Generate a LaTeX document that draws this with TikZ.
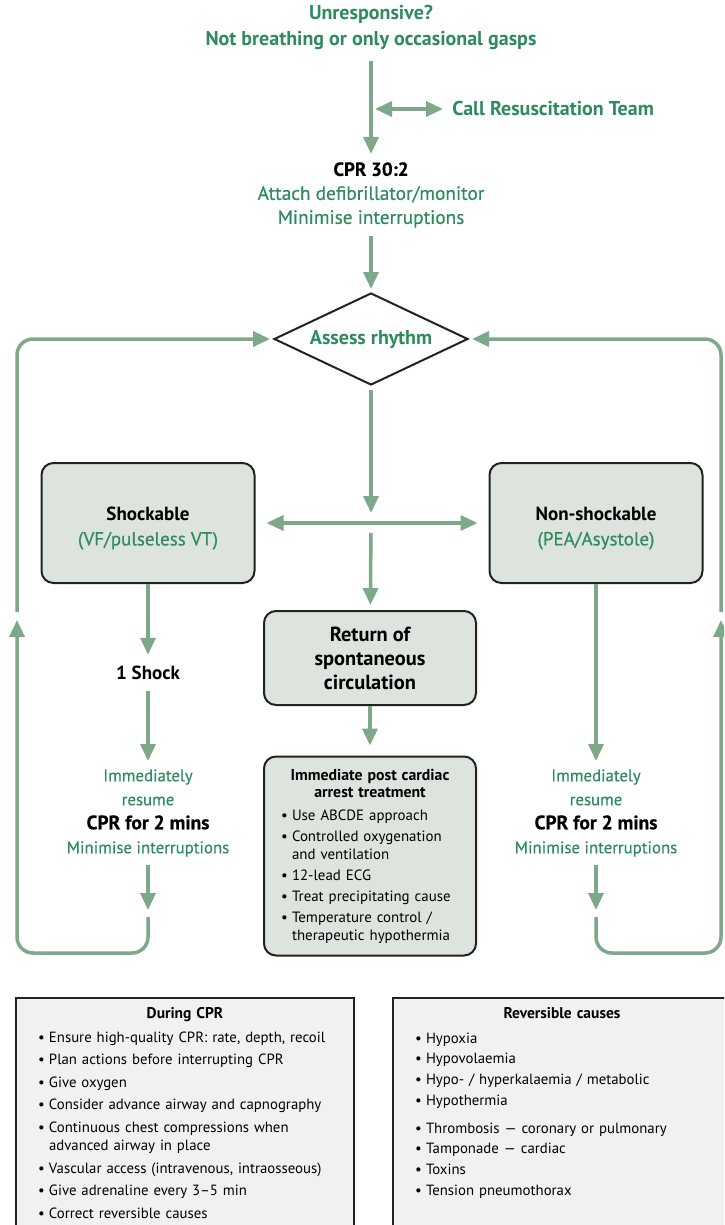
\documentclass[tikz,border=0pt]{standalone}
\usepackage{fontspec}
\setmainfont{PT Sans}
\newfontfamily\medium{PT Sans}[FakeBold=0.4]
\usetikzlibrary{arrows.meta,shapes.geometric}

\definecolor{rcgreen}{RGB}{46,139,94}
\definecolor{rcline}{RGB}{125,168,137}
\definecolor{rcfill}{RGB}{221,227,221}
\definecolor{rcpanel}{RGB}{240,241,240}
\definecolor{rcdark}{RGB}{34,34,34}

\newcommand{\itm}[1]{\makebox[11pt][l]{\textbullet}#1}
\newcommand{\itc}[1]{\hspace*{11pt}#1}

\begin{document}
\begin{tikzpicture}[x=1pt,y=-1pt,>={Triangle[width=15pt,length=17pt]},
    flow/.style={draw=rcline,line width=3.5pt,->},
    loop/.style={flow,rounded corners=16pt},
    hd/.style={font=\bfseries\fontsize{20}{26}\selectfont,text=rcgreen,align=center},
    sub/.style={font=\medium\fontsize{19.3}{24}\selectfont,text=rcgreen,align=center,outer sep=5pt},
    col/.style={font=\medium\fontsize{16.8}{24}\selectfont,text=rcgreen,align=center,outer sep=5pt},
    box/.style={draw=rcdark,line width=2pt,fill=rcfill,rounded corners=12pt,
        minimum width=213pt,minimum height=120pt,align=center,
        font=\fontsize{19}{25}\selectfont},
    panel/.style={draw=rcdark,line width=2pt,fill=rcpanel,anchor=north west,
        align=left,text width=294pt,inner xsep=22pt,inner ysep=9pt,
        font=\fontsize{14.8}{18}\selectfont}]
  \clip (0,0) rectangle (724,1225);

  \node (start) at (371,27) [hd,outer sep=8pt] {Unresponsive?\\Not breathing or only occasional gasps};
  \coordinate (callj) at (375,109);
  \node (call) at (443,109) [hd,anchor=west,outer sep=6pt] {Call Resuscitation Team};
  \node (cpr) at (371,195) [sub] {\textcolor{black}{\bfseries\fontsize{19}{24}\selectfont CPR 30:2}\\Attach defibrillator/monitor\\Minimise interruptions};
  \node (assess) at (371,339) [diamond,draw=rcdark,line width=2pt,aspect=2.1,inner sep=0pt,
      minimum width=194pt,minimum height=92pt,hd] {Assess rhythm};
  \node (shock) at (148,523) [box] {\rule{0pt}{24pt}\textbf{Shockable}\\\textcolor{rcgreen}{\medium (VF/pulseless VT)}};
  \node (nonshock) at (596,523) [box] {\rule{0pt}{24pt}\textbf{Non-shockable}\\\textcolor{rcgreen}{\medium (PEA/Asystole)}};
  \coordinate (split) at (371,524);
  \node (rosc) at (370,658) [box,minimum width=212pt,minimum height=94pt,
      font=\bfseries\fontsize{20.4}{24}\selectfont] {Return of\\spontaneous\\circulation};
  \node (post) at (370,856) [box,minimum width=212pt,minimum height=199pt,align=left,
      text width=178pt,font=\fontsize{14.9}{18}\selectfont] {%
      \makebox[178pt][c]{\bfseries\fontsize{15.8}{17}\selectfont Immediate post cardiac}\\[-1pt]
      \makebox[178pt][c]{\bfseries\fontsize{15.8}{17}\selectfont arrest treatment}\\[5pt]
      \itm{Use ABCDE approach}\\[3pt]
      \itm{Controlled oxygenation}\\
      \itc{and ventilation}\\[3pt]
      \itm{12-lead ECG}\\[3pt]
      \itm{Treat precipitating cause}\\[3pt]
      \itm{Temperature control /}\\
      \itc{therapeutic hypothermia}};

  \node (shockone) at (148,673) [font=\bfseries\fontsize{19}{24}\selectfont,outer sep=8pt] {1 Shock};
  \node (shockcpr) at (148,813) [col] {Immediately\\resume\\\textcolor{black}{\bfseries\fontsize{19.5}{24}\selectfont CPR for 2 mins}\\Minimise interruptions};
  \node (nscpr) at (596,813) [col] {Immediately\\resume\\\textcolor{black}{\bfseries\fontsize{19.5}{24}\selectfont CPR for 2 mins}\\Minimise interruptions};

  \coordinate (lbot) at (148,917);
  \coordinate (lcorner) at (17,953);
  \coordinate (ltip) at (17,620);
  \coordinate (lup) at (17,612);
  \coordinate (rbot) at (596,917);
  \coordinate (rcorner) at (721,953);
  \coordinate (rtip) at (721,620);
  \coordinate (rup) at (721,612);

  \node (during) at (15,997) [panel] {%
      \makebox[294pt][c]{\bfseries\fontsize{15.5}{18}\selectfont During CPR}\\[6pt]
      \itm{Ensure high-quality CPR: rate, depth, recoil}\\[4.6pt]
      \itm{Plan actions before interrupting CPR}\\[4.6pt]
      \itm{Give oxygen}\\[4.6pt]
      \itm{Consider advance airway and capnography}\\[4.6pt]
      \itm{Continuous chest compressions when}\\
      \itc{advanced airway in place}\\[4.6pt]
      \itm{Vascular access (intravenous, intraosseous)}\\[4.6pt]
      \itm{Give adrenaline every 3–5 min}\\[4.6pt]
      \itm{Correct reversible causes\rule[-40pt]{0pt}{0pt}}};
  \node (revs) at (392,997) [panel] {%
      \makebox[294pt][c]{\bfseries\fontsize{15.5}{18}\selectfont Reversible causes}\\[7pt]
      \itm{Hypoxia}\\[2.7pt]
      \itm{Hypovolaemia}\\[2.7pt]
      \itm{Hypo- / hyperkalaemia / metabolic}\\[2.7pt]
      \itm{Hypothermia}\\[10pt]
      \itm{Thrombosis — coronary or pulmonary}\\[2.7pt]
      \itm{Tamponade — cardiac}\\[2.7pt]
      \itm{Toxins}\\[2.7pt]
      \itm{Tension pneumothorax\rule[-60pt]{0pt}{0pt}}};

  \draw[flow] (start) -- (cpr);
  \draw[flow,<->] (callj) -- (call);
  \draw[flow,shorten >=3pt] (cpr) -- (assess);
  \draw[flow,shorten <=4pt,shorten >=11pt] (assess) -- (split);
  \draw[flow,<->,shorten <=11pt,shorten >=11pt] (shock) -- (nonshock);
  \draw[flow,shorten <=9pt,shorten >=5pt] (split) -- (rosc);
  \draw[flow,shorten >=10pt] (rosc) -- (post);
  \draw[flow] (shock) -- (shockone);
  \draw[flow] (shockone) -- (shockcpr);
  \draw[flow] (nonshock) -- (nscpr);
  \draw[flow] (shockcpr) -- (lbot |- 910,910);
  \draw[flow] (nscpr) -- (rbot |- 910,910);
  \draw[loop] (lbot) |- (lcorner) -- (ltip);
  \draw[loop] (rbot) |- (rcorner) -- (rtip);
  \draw[loop,shorten >=3pt] (lup) |- (assess);
  \draw[loop,shorten >=3pt] (rup) |- (assess);
\end{tikzpicture}
\end{document}
